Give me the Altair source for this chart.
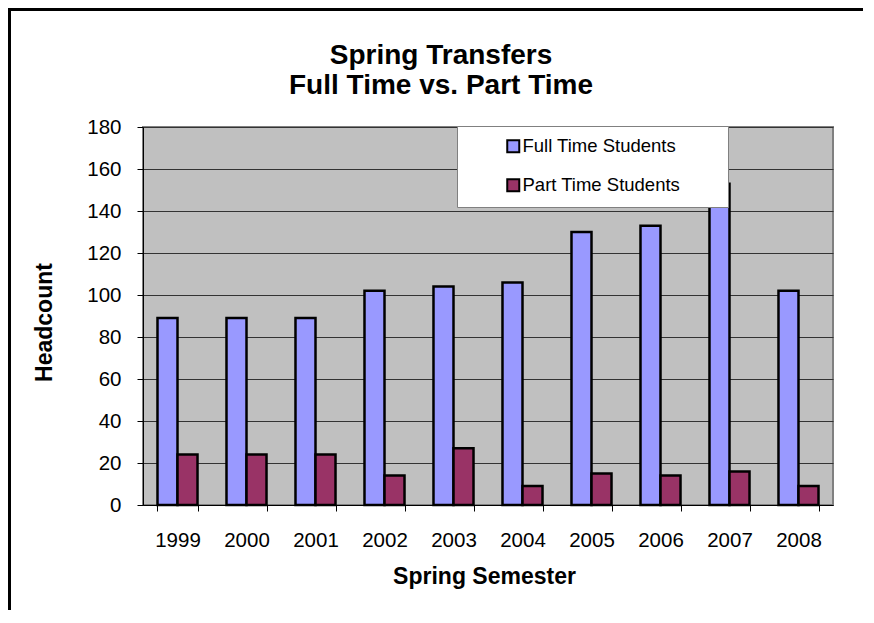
import altair as alt
import pandas as pd

years = ["1999", "2000", "2001", "2002", "2003", "2004", "2005", "2006", "2007", "2008"]
full_time = [89, 89, 89, 102, 104, 106, 130, 133, 153, 102]
part_time = [24, 24, 24, 14, 27, 9, 15, 14, 16, 9]
series_names = ["Full Time Students", "Part Time Students"]
series_colors = ["#9999FF", "#993366"]
y_ticks = [0, 20, 40, 60, 80, 100, 120, 140, 160, 180]

rows = []
for i, yr in enumerate(years):
    rows.append({"year": yr, "series": series_names[0], "value": full_time[i]})
    rows.append({"year": yr, "series": series_names[1], "value": part_time[i]})
df = pd.DataFrame(rows)

FONT = "Liberation Sans, Arial, sans-serif"
# trailing spacer keeps the legend box as wide as the reference's
SPACER = "\u00a0" * 7 + "\u200b"

bars = alt.Chart(df).mark_bar(stroke="black", strokeWidth=2.5).encode(
    x=alt.X(
        "year:N",
        sort=years,
        scale=alt.Scale(paddingInner=0.42, paddingOuter=0.21),
        axis=alt.Axis(
            title="Spring Semester",
            labelAngle=0,
            tickBand="extent",
            tickSize=6,
            tickColor="black",
            domainColor="black",
            labelPadding=19.5,
            labelFont=FONT,
            labelFontSize=20.5,
            labelColor="black",
            titleFont=FONT,
            titleFontSize=23,
            titleFontWeight="bold",
            titleColor="black",
            titleBaseline="alphabetic",
            titleY=78,
            titleX=341,
            grid=False,
        ),
    ),
    xOffset=alt.XOffset("series:N", sort=series_names, scale=alt.Scale(paddingInner=0, paddingOuter=0)),
    y=alt.Y(
        "value:Q",
        scale=alt.Scale(domain=[0, 180], nice=False),
        axis=alt.Axis(
            values=y_ticks,
            title="Headcount",
            tickSize=6,
            tickColor="black",
            domainColor="black",
            gridColor="#333333",
            gridWidth=1,
            labelPadding=16,
            labelFont=FONT,
            labelFontSize=20.5,
            labelColor="black",
            titleFont=FONT,
            titleFontSize=23,
            titleFontWeight="bold",
            titleColor="black",
            titleX=-99,
            titleY=195,
            titleAlign="center",
            titleBaseline="middle",
        ),
    ),
    color=alt.Color(
        "series:N",
        scale=alt.Scale(domain=series_names, range=series_colors),
        legend=alt.Legend(
            title=None,
            orient="none",
            legendX=314,
            legendY=-1,
            fillColor="white",
            strokeColor="#808080",
            padding=11,
            rowPadding=18,
            symbolType="square",
            symbolSize=144,
            symbolStrokeColor="black",
            symbolStrokeWidth=2,
            symbolOffset=36,
            labelOffset=0,
            labelLimit=400,
            labelFont=FONT,
            labelFontSize=18.5,
            labelColor="black",
            labelExpr="datum.label + '" + SPACER + "'",
        ),
    ),
)

frame = alt.Chart(alt.Data(values=[{}])).mark_rect(
    fillOpacity=0, stroke="black", strokeWidth=3
).encode(
    x=alt.value(-133.5), x2=alt.value(760), y=alt.value(-117.5), y2=alt.value(520)
)

chart = alt.layer(bars, frame).properties(
    width=690,
    height=378,
    autosize=alt.AutoSizeParams(type="none"),
    padding={"left": 135, "top": 119, "right": 30, "bottom": 105},
    title=alt.TitleParams(
        text=["Spring Transfers", "Full Time vs. Part Time"],
        font=FONT,
        fontSize=28,
        fontWeight="bold",
        color="black",
        anchor="middle",
        offset=0,
        dy=92,
        dx=-47,
        lineHeight=30,
    ),
).configure_view(fill="#C0C0C0", stroke="#808080", strokeWidth=2)

chart.save("out.html", embed_options={"renderer": "svg", "actions": False})
